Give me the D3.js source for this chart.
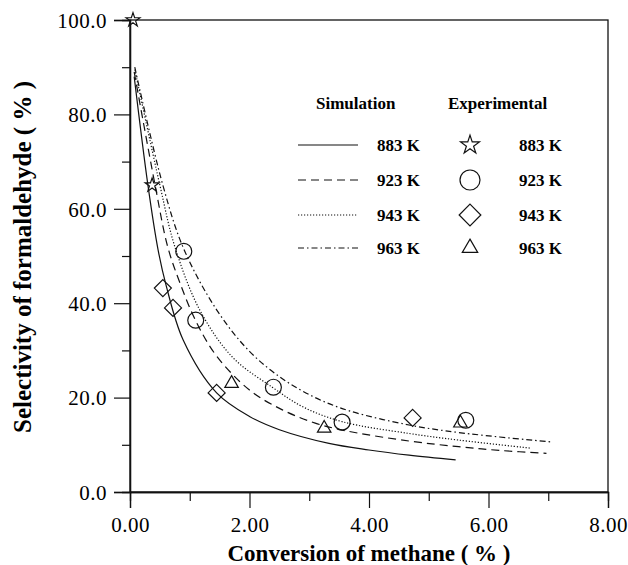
<!DOCTYPE html>
<html>
<head>
<meta charset="utf-8">
<script src="https://cdn.jsdelivr.net/npm/d3@7"></script>
<style>
  body { margin: 0; background: #fff; }
  svg text { font-family: "Liberation Serif", "DejaVu Serif", serif; fill: #000; }
</style>
</head>
<body>
<div id="chart"></div>
<script>
// tick values
const xTicks = [0, 2, 4, 6, 8];
const xMinor = [1, 3, 5, 7];
const yTicks = [0, 20, 40, 60, 80, 100];
const yMinor = [10, 30, 50, 70, 90];
const temps = ['883 K', '923 K', '943 K', '963 K'];

// simulation curves [conversion, selectivity]
const sim883 = [[0.07, 88], [0.3, 65], [0.47, 51.3], [0.6, 44], [0.89, 32.2], [1.45, 21],
  [2.0, 16.0], [2.5, 13.2], [3.33, 10.3], [4.0, 8.9], [4.67, 7.8], [5.45, 6.8]];
const sim923 = [[0.07, 89], [0.42, 65], [0.63, 52], [0.83, 44.5], [1.11, 36], [1.45, 28.8],
  [2.0, 21.6], [2.55, 17.4], [3.1, 14.6], [3.6, 13.0], [4.67, 10.8], [5.5, 9.6], [6.2, 8.8], [6.97, 8.2]];
const sim943 = [[0.08, 89.5], [0.5, 65], [0.75, 52], [1.17, 38.5], [1.72, 28.5], [2.38, 22.2],
  [2.9, 18.0], [3.55, 14.9], [4.67, 12.4], [5.5, 11.0], [6.7, 9.3]];
const sim963 = [[0.08, 90], [0.55, 65], [0.9, 51.5], [1.45, 38.6], [2.0, 29.8], [2.55, 24.0],
  [3.1, 20.0], [3.67, 17.2], [4.67, 14.2], [5.5, 12.6], [7.05, 10.6]];

// experimental points
const exp883 = [[0.05, 100], [0.37, 65]];
const exp923 = [[0.9, 51], [1.1, 36.4], [2.4, 22.2], [3.55, 14.8], [5.62, 15.2]];
const exp943 = [[0.55, 43.2], [0.72, 39], [1.45, 21], [4.73, 15.7]];
const exp963 = [[1.7, 23], [3.25, 13.5], [5.53, 14.6]];

const width = 628;
const height = 565;
const margin = { top: 20, right: 20, bottom: 73, left: 130 };

const svg = d3.select('#chart')
  .append('svg')
  .attr('width', width)
  .attr('height', height);

const x = d3.scaleLinear().domain([0, 8]).range([margin.left, width - margin.right]);
const y = d3.scaleLinear().domain([0, 100]).range([height - margin.bottom, margin.top]);

const ink = '#111';

// frame
svg.append('rect')
  .attr('x', x(0)).attr('y', y(100))
  .attr('width', x(8) - x(0)).attr('height', y(0) - y(100))
  .attr('fill', 'none').attr('stroke', ink).attr('stroke-width', 1.3);

// axes
const xAxis = svg.append('g')
  .attr('transform', `translate(0,${y(0)})`)
  .call(d3.axisBottom(x).tickValues(xTicks).tickSize(16).tickPadding(7)
    .tickFormat(d3.format('.2f')));
svg.append('g')
  .attr('transform', `translate(0,${y(0)})`)
  .call(d3.axisBottom(x).tickValues(xMinor).tickSize(9).tickFormat(''));

const yAxis = svg.append('g')
  .attr('transform', `translate(${x(0)},0)`)
  .call(d3.axisLeft(y).tickValues(yTicks).tickSize(16).tickPadding(7)
    .tickFormat(d3.format('.1f')));
svg.append('g')
  .attr('transform', `translate(${x(0)},0)`)
  .call(d3.axisLeft(y).tickValues(yMinor).tickSize(8).tickFormat(''));

svg.selectAll('.domain').attr('stroke', ink).attr('stroke-width', 1.3);
svg.selectAll('.tick line').attr('stroke', ink).attr('stroke-width', 1.2);
svg.selectAll('.tick text')
  .style('font-family', '"Liberation Serif", serif')
  .style('font-size', '21px')
  .style('letter-spacing', '0.5px')
  .attr('fill', '#000');
xAxis.selectAll('.tick text').attr('dy', '0.8em');
yAxis.selectAll('.tick text').attr('dy', '0.35em');

// axis titles
svg.append('text')
  .attr('x', 369).attr('y', 561)
  .attr('text-anchor', 'middle')
  .style('font-size', '23px').style('font-weight', 'bold')
  .text('Conversion of methane ( % )');

svg.append('text')
  .attr('transform', 'translate(31,257) rotate(-90)')
  .attr('text-anchor', 'middle')
  .style('font-size', '25px').style('font-weight', 'bold')
  .text('Selectivity of formaldehyde ( % )');

// curves
const dashes = [null, '8,5', '1.2,1.8', '6,3,1.5,3'];
const line = d3.line()
  .x(d => x(d[0]))
  .y(d => y(d[1]))
  .curve(d3.curveCatmullRom.alpha(0.5));

[sim883, sim923, sim943, sim963].forEach((s, i) => {
  svg.append('path')
    .datum(s)
    .attr('d', line)
    .attr('fill', 'none')
    .attr('stroke', ink)
    .attr('stroke-width', 1.2)
    .attr('stroke-dasharray', dashes[i]);
});

// markers
const symbols = [d3.symbolStar, d3.symbolCircle, d3.symbolDiamond2, d3.symbolTriangle2];
const sizes = [60, 200, 185, 130];
const marker = (i, s) => d3.symbol().type(symbols[i]).size(s || sizes[i])();

[exp883, exp923, exp943, exp963].forEach((pts, i) => {
  svg.append('g')
    .selectAll('path')
    .data(pts)
    .join('path')
    .attr('transform', d => `translate(${x(d[0])},${y(d[1])})`)
    .attr('d', marker(i))
    .attr('fill', 'none')
    .attr('stroke', ink)
    .attr('stroke-width', 1.2);
});

// legend
const legend = svg.append('g');
const rowY = [145, 180, 215, 248];

legend.append('text')
  .attr('x', 316).attr('y', 109)
  .style('font-size', '17px').style('font-weight', 'bold')
  .text('Simulation');
legend.append('text')
  .attr('x', 448).attr('y', 109)
  .style('font-size', '17px').style('font-weight', 'bold')
  .text('Experimental');

temps.forEach((t, i) => {
  legend.append('line')
    .attr('x1', 298).attr('x2', 358)
    .attr('y1', rowY[i]).attr('y2', rowY[i])
    .attr('stroke', ink)
    .attr('stroke-width', 1.2)
    .attr('stroke-dasharray', dashes[i]);
  legend.append('text')
    .attr('x', 377).attr('y', rowY[i] + 6)
    .style('font-size', '17px').style('font-weight', 'bold')
    .text(t);
  legend.append('path')
    .attr('transform', `translate(470,${rowY[i]})`)
    .attr('d', marker(i, [110, 314, 300, 170][i]))
    .attr('fill', 'none')
    .attr('stroke', ink)
    .attr('stroke-width', 1.2);
  legend.append('text')
    .attr('x', 519).attr('y', rowY[i] + 6)
    .style('font-size', '17px').style('font-weight', 'bold')
    .text(t);
});
</script>
</body>
</html>
